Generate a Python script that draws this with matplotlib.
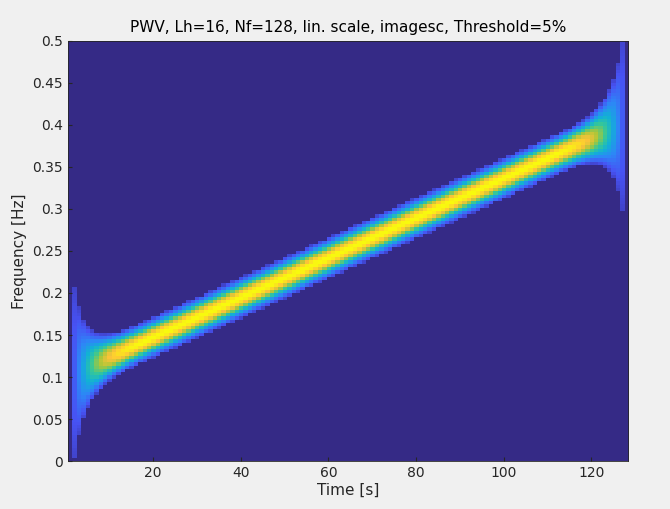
import numpy as np
import matplotlib.pyplot as plt
from matplotlib.colors import LinearSegmentedColormap

# signal / analysis settings shown in the title
N = 128          # samples
f_start = 0.1    # chirp start frequency (normalised)
f_end = 0.4      # chirp end frequency
Lh = 16
Nf = 128
threshold = 0.05
clip_level = 0.09   # side-lobe level hidden in the reference rendering

# parula-like colormap anchors
parula_colors = [
    (0.2081, 0.1663, 0.5292), (0.2810, 0.3228, 0.9579), (0.1786, 0.5289, 0.9682),
    (0.0689, 0.6948, 0.8394), (0.2161, 0.7843, 0.5923), (0.6720, 0.7793, 0.2227),
    (0.9970, 0.7659, 0.2199), (0.9763, 0.9831, 0.0538),
]
parula = LinearSegmentedColormap.from_list("parula", parula_colors)

# linear chirp (analytic), like fmlin
n = np.arange(1, N + 1)
phase = 2 * np.pi * (f_start * (n - 1) + (f_end - f_start) / (2 * (N - 1)) * (n - 1) ** 2)
x = np.exp(1j * phase)

# pseudo Wigner-Ville, hamming window of length 2*Lh+1
h = np.hamming(2 * Lh + 1)
h = h / h[Lh]
tfr = np.zeros((Nf, N), dtype=complex)
for ti in range(N):
    taumax = min(ti, N - 1 - ti, Nf // 2 - 1, Lh)
    tau = np.arange(-taumax, taumax + 1)
    idx = (Nf + tau) % Nf
    tfr[idx, ti] = h[Lh + tau] * x[ti + tau] * np.conj(x[ti - tau])
tfr = np.real(np.fft.fft(tfr, axis=0))
tfr[tfr < max(threshold, clip_level) * tfr.max()] = 0

fig = plt.figure(figsize=(6.7, 5.09), dpi=100, facecolor="#f0f0f0")
ax = fig.add_axes([0.101, 0.094, 0.837, 0.826])
ax.imshow(tfr, origin="lower", aspect="auto", cmap=parula,
          extent=[0.5, N + 0.5, 0, 0.5], interpolation="nearest",
          vmin=0, vmax=tfr.max())
ax.set_xlim(0.5, N + 0.5)
ax.set_ylim(0, 0.5)
ax.set_xticks([20, 40, 60, 80, 100, 120])
ax.set_yticks(np.arange(0, 0.501, 0.05))
ax.set_yticklabels(["0", "0.05", "0.1", "0.15", "0.2", "0.25", "0.3", "0.35", "0.4", "0.45", "0.5"])
ax.tick_params(labelsize=10, colors="#262626", direction="in", length=3)
for s in ax.spines.values():
    s.set_color("#262626")
    s.set_linewidth(0.6)
ax.set_xlabel("Time [s]", fontsize=11, color="#262626", labelpad=2)
ax.set_ylabel("Frequency [Hz]", fontsize=11, color="#262626")
ax.set_title("PWV, Lh=16, Nf=128, lin. scale, imagesc, Threshold=5%", fontsize=11, color="black")
fig.savefig("out.png", dpi=100, facecolor=fig.get_facecolor())
